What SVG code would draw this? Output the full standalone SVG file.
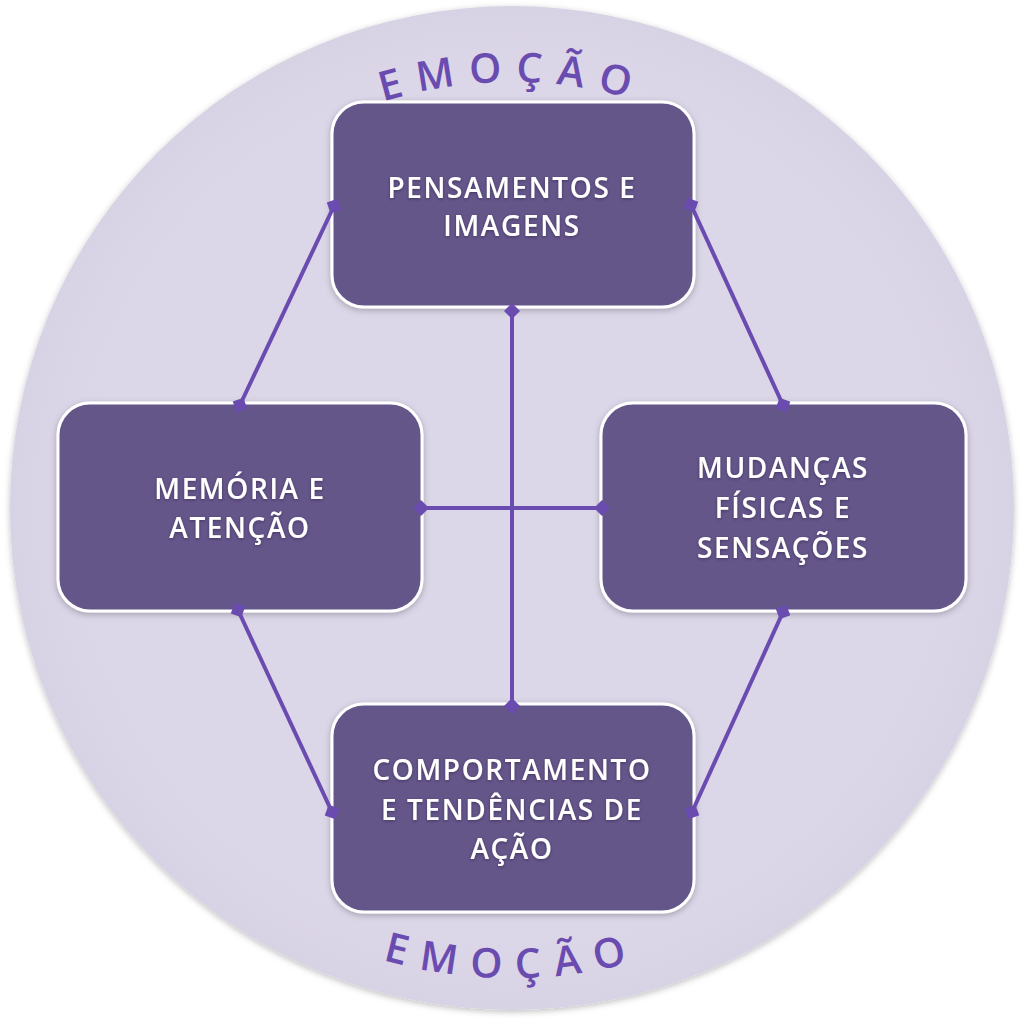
<svg xmlns="http://www.w3.org/2000/svg" width="1024" height="1024" viewBox="0 0 1024 1024">
<defs>
<radialGradient id="bg" cx="0.5" cy="0.5" r="0.5">
<stop offset="0.85" stop-color="#dcd7e8"/>
<stop offset="1" stop-color="#d8d2e5"/>
</radialGradient>
<filter id="sh" x="-10%" y="-10%" width="120%" height="120%">
<feDropShadow dx="0" dy="2" stdDeviation="3" flood-color="#000" flood-opacity="0.25"/>
</filter>
<filter id="ts" x="-10%" y="-20%" width="120%" height="140%">
<feDropShadow dx="0" dy="1" stdDeviation="1.5" flood-color="#2a1f45" flood-opacity="0.6"/>
</filter>
<marker id="dm" viewBox="-9 -9 18 18" markerWidth="18" markerHeight="18" refX="0" refY="0" orient="auto" markerUnits="userSpaceOnUse">
<path d="M-8 0 L0 -8 L8 0 L0 8 Z" fill="#6a4bb0"/>
</marker>
<path id="arcTop" d="M 82 512 A 430 430 0 0 1 942 512"/>
<path id="arcBot" d="M 46 512 A 466 466 0 0 0 978 512"/>
</defs>
<style>
.box{fill:#65578a;stroke:#ffffff;stroke-width:3;filter:url(#sh)}
.lbl{font-family:"Open Sans","Liberation Sans",sans-serif;font-size:28px;font-weight:600;letter-spacing:1.6px;fill:#ffffff;text-anchor:middle;filter:url(#ts)}
.conn{stroke:#6a4bb0;stroke-width:4;fill:none;marker-start:url(#dm);marker-end:url(#dm)}
.title{font-family:"Open Sans","Liberation Sans",sans-serif;font-size:41px;font-weight:600;fill:#6a4bb0;letter-spacing:14px;text-anchor:middle}
</style>
<circle cx="512" cy="508" r="502" fill="url(#bg)" filter="url(#sh)"/>
<text class="title"><textPath href="#arcTop" startOffset="50%">EMOÇÃO</textPath></text>
<text class="title"><textPath href="#arcBot" startOffset="50%">EMOÇÃO</textPath></text>
<g id="n-pensamentos">
<rect class="box" x="332" y="102" width="362" height="205" rx="32"/>
<text class="lbl" x="512" y="198">PENSAMENTOS E</text>
<text class="lbl" x="512" y="236">IMAGENS</text>
</g>
<g id="n-memoria">
<rect class="box" x="58" y="403" width="364" height="208" rx="32"/>
<text class="lbl" x="240" y="499">MEMÓRIA E</text>
<text class="lbl" x="240" y="538">ATENÇÃO</text>
</g>
<g id="n-mudancas">
<rect class="box" x="601" y="403" width="365" height="208" rx="32"/>
<text class="lbl" x="783" y="478">MUDANÇAS</text>
<text class="lbl" x="783" y="518">FÍSICAS E</text>
<text class="lbl" x="783" y="558">SENSAÇÕES</text>
</g>
<g id="n-comportamento">
<rect class="box" x="332" y="704" width="362" height="208" rx="32"/>
<text class="lbl" x="512" y="780">COMPORTAMENTO</text>
<text class="lbl" x="512" y="820">E TENDÊNCIAS DE</text>
<text class="lbl" x="512" y="859">AÇÃO</text>
</g>
<g id="connectors">
<line class="conn" x1="334" y1="206" x2="240" y2="405"/>
<line class="conn" x1="691" y1="205" x2="783" y2="405"/>
<line class="conn" x1="238" y1="610" x2="332" y2="812"/>
<line class="conn" x1="783" y1="612" x2="692" y2="812"/>
<line class="conn" x1="512" y1="311" x2="512" y2="706"/>
<line class="conn" x1="421" y1="508" x2="602" y2="508"/>
</g>
</svg>
